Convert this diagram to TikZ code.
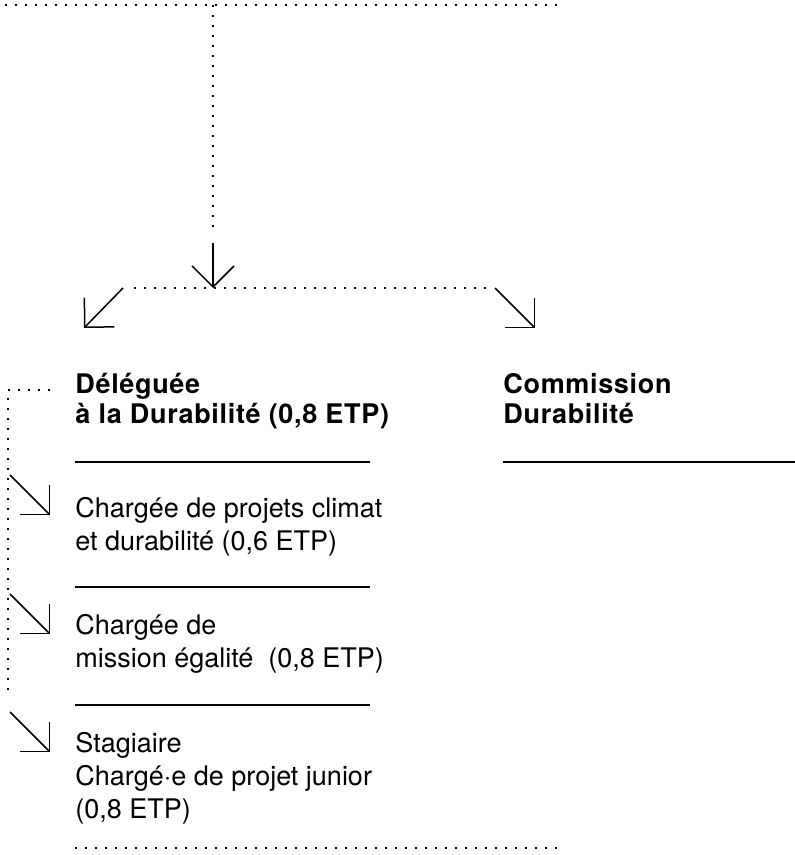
\documentclass[tikz,border=0pt]{standalone}
\usepackage{fontspec}
\setmainfont{TeX Gyre Heros}
\newfontfamily\titrefont[LetterSpace=2.5]{TeX Gyre Heros}
\usetikzlibrary{arrows.meta}
\tikzset{
  dots/.style={line width=0.8pt, dash pattern=on 0.8pt off 4.2pt},
  fleche/.style={->, line width=0.75pt},
  trait/.style={line width=0.6pt},
  titre/.style={anchor=base west, inner sep=0pt, align=left, font=\titrefont\bfseries\fontsize{13.5}{15}\selectfont},
  poste/.style={anchor=base west, inner sep=0pt, align=left, font=\fontsize{13.5}{16.5}\selectfont}
}
\begin{document}
\begin{tikzpicture}[x=0.5pt,y=-0.5pt,>={Straight Barb[length=10.5pt,width=21pt]}, line join=miter]
	\useasboundingbox (0,0) rectangle (795,855);
	% points de depart et d'arrivee
	\coordinate (haut) at (213,5);
	\coordinate (bas) at (213,233);
	\coordinate (fourche) at (213,288);
	\coordinate (g0) at (123,288);
	\coordinate (g1) at (84,328);
	\coordinate (d0) at (495,288);
	\coordinate (d1) at (535,328);
	% textes (ancre sur la derniere ligne)
	\node[titre] (delegue) at (75,423) {Déléguée\\à la Durabilité (0,8 ETP)};
	\node[titre] (commission) at (503,423) {Commission\\Durabilité};
	\node[poste] (climat) at (75,550) {Chargée de projets climat\\et durabilité (0,6 ETP)};
	\node[poste] (egalite) at (75,667) {Chargée de\\mission égalité~~(0,8 ETP)};
	\node[poste] (stagiaire) at (75,818) {Stagiaire\\Chargé·e de projet junior\\(0,8 ETP)};
	% traits de separation
	\foreach \y in {462,587,705}
	\draw[trait] (75,\y)--(370,\y);
	\draw[trait] (503,462)--(795,462);
	% pointilles
	\draw[dots] (5,5)--(557,5);
	\draw[dots] (haut)--(bas);
	\draw[fleche] (213,243)--(fourche);
	\draw[dots] (134,288)--(490,288);
	\draw[fleche] (g0)--(g1);
	\draw[fleche] (d0)--(d1);
	\draw[dots] (50,390)--(8,390)--(8,697);
	\draw[dots] (75,848)--(557,848);
	\foreach \y in {515,634,752}
	\draw[fleche] (10,\y-40)--(50,\y);
\end{tikzpicture}
\end{document}
